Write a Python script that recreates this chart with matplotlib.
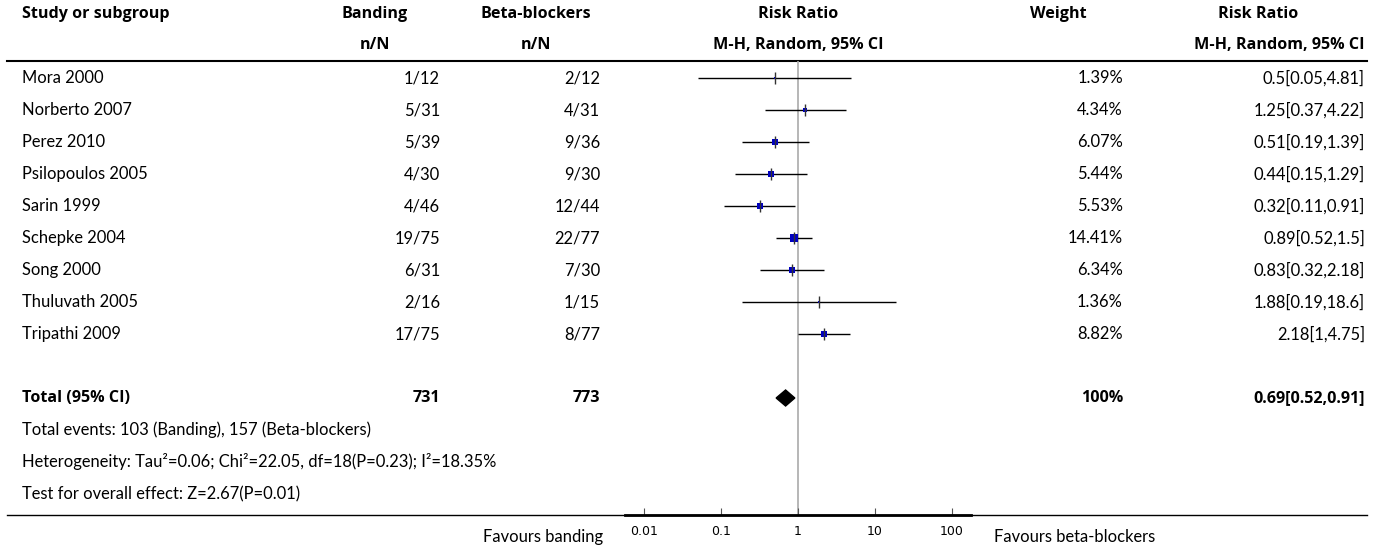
import numpy as np
import matplotlib
matplotlib.use('Agg')
import matplotlib.pyplot as plt

plt.rcParams['font.family'] = ['Lato', 'DejaVu Sans']

# study data
studies = ['Mora 2000', 'Norberto 2007', 'Perez 2010', 'Psilopoulos 2005', 'Sarin 1999',
           'Schepke 2004', 'Song 2000', 'Thuluvath 2005', 'Tripathi 2009']
banding = ['1/12', '5/31', '5/39', '4/30', '4/46', '19/75', '6/31', '2/16', '17/75']
beta = ['2/12', '4/31', '9/36', '9/30', '12/44', '22/77', '7/30', '1/15', '8/77']
weights = [1.39, 4.34, 6.07, 5.44, 5.53, 14.41, 6.34, 1.36, 8.82]
rr = [0.5, 1.25, 0.51, 0.44, 0.32, 0.89, 0.83, 1.88, 2.18]
lo = [0.05, 0.37, 0.19, 0.15, 0.11, 0.52, 0.32, 0.19, 1]
hi = [4.81, 4.22, 1.39, 1.29, 0.91, 1.5, 2.18, 18.6, 4.75]
total_rr, total_lo, total_hi = 0.69, 0.52, 0.91
total_banding, total_beta = '731', '773'
axis_ticks = [0.01, 0.1, 1, 10, 100]
tick_labels = ['0.01', '0.1', '1', '10', '100']

W, H = 1375, 548
fig = plt.figure(figsize=(W / 100, H / 100), dpi=100)

# background axes in pixel units for the table text
bg = fig.add_axes([0, 0, 1, 1])
bg.set_xlim(0, W)
bg.set_ylim(H, 0)
bg.axis('off')

row0, dy = 78, 32
reg = dict(fontsize=11.9, va='center', family=['Lato', 'DejaVu Sans'])
bold = dict(fontsize=11.6, va='center', fontweight='bold', family=['Open Sans', 'DejaVu Sans'])

def rowy(i):
    return row0 + dy * i

# headers
hy1, hy2 = 14, 45
bg.text(22, hy1, 'Study or subgroup', **bold)
bg.text(375, hy1, 'Banding', ha='center', **bold)
bg.text(375, hy2, 'n/N', ha='center', **bold)
bg.text(536, hy1, 'Beta-blockers', ha='center', **bold)
bg.text(536, hy2, 'n/N', ha='center', **bold)
bg.text(798, hy1, 'Risk Ratio', ha='center', **bold)
bg.text(798, hy2, 'M-H, Random, 95% CI', ha='center', **bold)
bg.text(1058, hy1, 'Weight', ha='center', **bold)
bg.text(1258, hy1, 'Risk Ratio', ha='center', **bold)
bg.text(1365, hy2, 'M-H, Random, 95% CI', ha='right', **bold)

bg.plot([7, 1367], [61, 61], color='black', lw=1.5)

for i, name in enumerate(studies):
    y = rowy(i)
    bg.text(22, y, name, **reg)
    bg.text(440, y, banding[i], ha='right', **reg)
    bg.text(600, y, beta[i], ha='right', **reg)
    bg.text(1123, y, '%.2f%%' % weights[i], ha='right', **reg)
    bg.text(1365, y, '%g[%g,%g]' % (rr[i], lo[i], hi[i]), ha='right', **reg)

ty = rowy(10)
bg.text(22, ty, 'Total (95% CI)', **bold)
bg.text(440, ty, total_banding, ha='right', **bold)
bg.text(600, ty, total_beta, ha='right', **bold)
bg.text(1123, ty, '100%', ha='right', **bold)
bg.text(1365, ty, '%g[%g,%g]' % (total_rr, total_lo, total_hi), ha='right', **bold)
bg.text(22, rowy(11), 'Total events: 103 (Banding), 157 (Beta-blockers)', **reg)
bg.text(22, rowy(12), 'Heterogeneity: Tau\u00b2=0.06; Chi\u00b2=22.05, df=18(P=0.23); I\u00b2=18.35%', **reg)
bg.text(22, rowy(13), 'Test for overall effect: Z=2.67(P=0.01)', **reg)

bg.plot([7, 1367], [515, 515], color='black', lw=1.0)
bg.text(603, 537, 'Favours banding', ha='right', **reg)
bg.text(994, 537, 'Favours beta-blockers', ha='left', **reg)

# forest axes (log scale)
px_dec = 77.0
x1 = 798
left_px, right_px, top_px, bot_px = 625, 971, 61, 515
ax = fig.add_axes([left_px / W, 1 - bot_px / H, (right_px - left_px) / W, (bot_px - top_px) / H])
ax.patch.set_alpha(0)
ax.set_xscale('log')
ax.set_xlim(10 ** ((left_px - x1) / px_dec), 10 ** ((right_px - x1) / px_dec))
ax.set_ylim((bot_px - row0) / dy, (top_px - row0) / dy)
for s in ['top', 'left', 'right']:
    ax.spines[s].set_visible(False)
ax.spines['bottom'].set_linewidth(2)
ax.set_yticks([])
ax.set_xticks(axis_ticks)
ax.set_xticklabels(tick_labels, fontfamily='DejaVu Sans', fontsize=9)
ax.minorticks_off()
ax.tick_params(axis='x', direction='in', length=5, width=0.8, color='#555555', pad=7)

ax.axvline(1, color='#aaaaaa', lw=1.2, zorder=1)

ypos = np.arange(len(studies))
ax.hlines(ypos, lo, hi, color='black', lw=1.0, zorder=2)
sizes = 1.55 * np.sqrt(np.array(weights))
for i in range(len(studies)):
    ax.plot(rr[i], ypos[i], marker='s', color='#0000c0', markersize=sizes[i],
            markeredgewidth=0, zorder=3)
    ax.plot(rr[i], ypos[i], marker='|', color='#333333', markersize=8, markeredgewidth=1.0, zorder=4)

# pooled diamond
yt = 10
dh = 8.0 / dy
ax.fill([total_lo, total_rr, total_hi, total_rr], [yt, yt - dh, yt, yt + dh],
        color='black', zorder=4)

fig.savefig('out.png', dpi=100)
